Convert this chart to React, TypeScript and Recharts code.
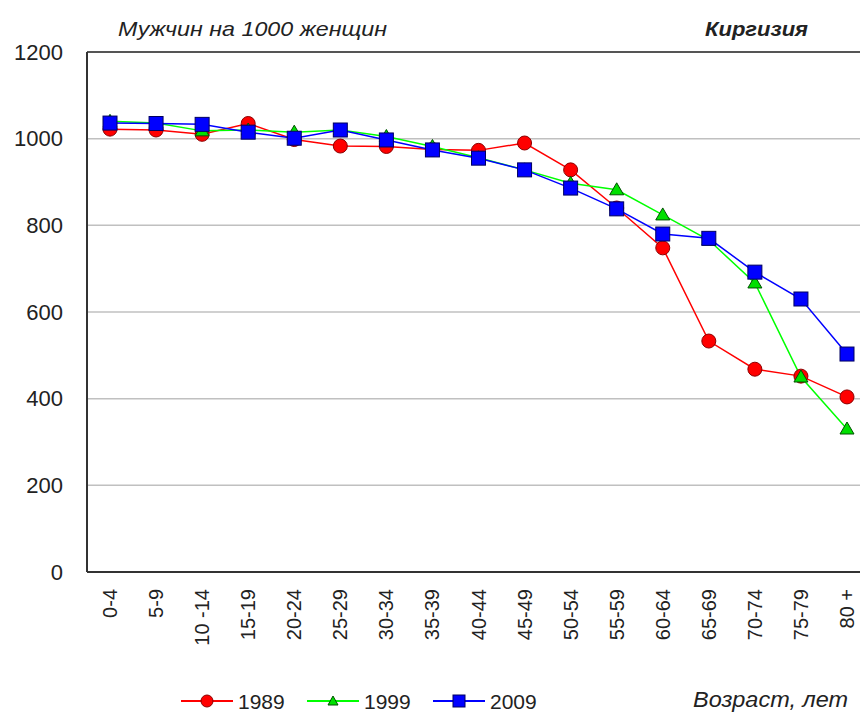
import { LineChart, Line, XAxis, YAxis, CartesianGrid, ReferenceLine } from 'recharts';

const ages = ['0-4', '5-9', '10 -14', '15-19', '20-24', '25-29', '30-34', '35-39', '40-44', '45-49', '50-54', '55-59', '60-64', '65-69', '70-74', '75-79', '80 +'];
const y1989 = [1022, 1020, 1010, 1035, 998, 983, 982, 975, 973, 990, 928, 840, 748, 533, 468, 452, 404];
const y1999 = [1040, 1036, 1018, 1020, 1015, 1020, 1005, 982, 956, 928, 897, 882, 824, 766, 667, 450, 330];
const y2009 = [1036, 1035, 1033, 1015, 1001, 1020, 997, 974, 955, 928, 886, 838, 780, 770, 692, 630, 503];
const yTicks = [0, 200, 400, 600, 800, 1000, 1200];

const data = ages.map((age, i) => ({ age, a: y1989[i], b: y1999[i], c: y2009[i] }));

const FONT = '"Liberation Sans", Arial, sans-serif';
const TXT = '#222';

const Circle = (p: any) => (
  <circle key={p.index} cx={p.cx} cy={p.cy} r={7} fill="#ff0000" stroke="#8b0000" strokeWidth={1} />
);
const Tri = (p: any) => (
  <polygon
    key={p.index}
    points={`${p.cx},${p.cy - 7} ${p.cx - 7},${p.cy + 5} ${p.cx + 7},${p.cy + 5}`}
    fill="#00e000"
    stroke="#005000"
    strokeWidth={1}
  />
);
const Sq = (p: any) => (
  <rect key={p.index} x={p.cx - 7} y={p.cy - 7} width={14} height={14} fill="#0000ff" stroke="#000060" strokeWidth={1} />
);

const YTick = ({ y, payload }: any) => (
  <text x={63} y={y} textAnchor="end" dominantBaseline="central" fontSize={22} fontFamily={FONT} fill={TXT}>
    {payload.value}
  </text>
);

const XTick = ({ x, payload }: any) => (
  <text
    transform={`translate(${x},589) rotate(-90)`}
    textAnchor="end"
    dominantBaseline="central"
    fontSize={20}
    fontFamily={FONT}
    fill={TXT}
  >
    {payload.value}
  </text>
);

const legend = [
  { name: '1989', color: '#ff0000', x: 181, shape: 'c' },
  { name: '1999', color: '#00ff00', x: 307, shape: 't' },
  { name: '2009', color: '#0000ff', x: 433, shape: 's' },
];

export default function App() {
  return (
    <div style={{ position: 'absolute', left: 0, top: 0, width: 860, height: 713, overflow: 'hidden', background: '#fff' }}>
      <LineChart width={870} height={713} data={data} margin={{ top: 52, right: 0, bottom: 0, left: 0 }}>
        <CartesianGrid horizontal vertical={false} stroke="#c0c0c0" strokeWidth={1.5} />
        <XAxis
          dataKey="age"
          interval={0}
          height={141}
          padding={{ left: 23, right: 23 }}
          tick={<XTick />}
          tickLine={false}
          axisLine={{ stroke: '#333', strokeWidth: 2 }}
        />
        <YAxis
          width={87}
          domain={[0, 1200]}
          ticks={yTicks}
          tick={<YTick />}
          tickLine={false}
          axisLine={{ stroke: '#333', strokeWidth: 2 }}
        />
        <ReferenceLine y={1200} stroke="#555" strokeWidth={2} />
        <Line dataKey="a" stroke="#ff0000" strokeWidth={1.5} dot={Circle} isAnimationActive={false} />
        <Line dataKey="b" stroke="#00ff00" strokeWidth={1.5} dot={Tri} isAnimationActive={false} />
        <Line dataKey="c" stroke="#0000ff" strokeWidth={1.5} dot={Sq} isAnimationActive={false} />
      </LineChart>

      <svg width={860} height={713} style={{ position: 'absolute', left: 0, top: 0, pointerEvents: 'none' }}>
        <text x={118} y={28} dominantBaseline="central" fontSize={21} fontStyle="italic" fontFamily={FONT} fill={TXT} textLength={269} lengthAdjust="spacingAndGlyphs">
          Мужчин на 1000 женщин
        </text>
        <text x={705} y={28} dominantBaseline="central" fontSize={21} fontStyle="italic" fontWeight="bold" fontFamily={FONT} fill={TXT} textLength={103} lengthAdjust="spacingAndGlyphs">
          Киргизия
        </text>
        <text x={693} y={699} dominantBaseline="central" fontSize={22} fontStyle="italic" fontFamily={FONT} fill={TXT} textLength={155} lengthAdjust="spacingAndGlyphs">
          Возраст, лет
        </text>
        {legend.map((l) => {
          const cx = l.x + 26;
          const cy = 701;
          return (
            <g key={l.name}>
              <line x1={l.x} x2={l.x + 52} y1={cy} y2={cy} stroke={l.color} strokeWidth={2} />
              {l.shape === 'c' && <circle cx={cx} cy={cy} r={6} fill="#ff0000" stroke="#8b0000" />}
              {l.shape === 't' && (
                <polygon points={`${cx},${cy - 5} ${cx - 5},${cy + 4} ${cx + 5},${cy + 4}`} fill="#00e000" stroke="#005000" />
              )}
              {l.shape === 's' && <rect x={cx - 6} y={cy - 6} width={12} height={12} fill="#0000ff" stroke="#000060" />}
              <text x={l.x + 57} y={cy} dominantBaseline="central" fontSize={21} fontFamily={FONT} fill={TXT}>
                {l.name}
              </text>
            </g>
          );
        })}
      </svg>
    </div>
  );
}
